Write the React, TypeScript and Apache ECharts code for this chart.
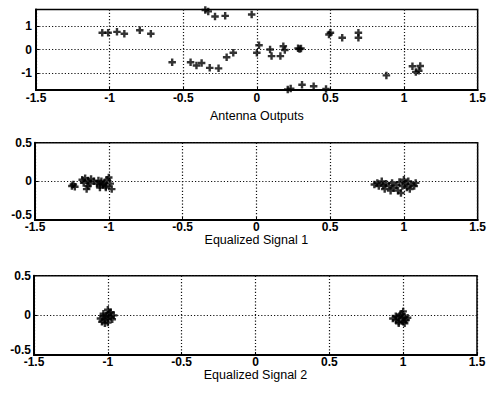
import React, { useEffect, useRef } from "react";
import * as echarts from "echarts";

const xTicks = [-1.5, -1, -0.5, 0, 0.5, 1, 1.5];
const topYTicks = [-1, 0, 1];
const lowYTicks = [-0.5, 0, 0.5];
const titles = ["Antenna Outputs", "Equalized Signal 1", "Equalized Signal 2"];

const antennaOutputs: number[][] = [
  [-1.05, 0.71], [-1.01, 0.71], [-0.95, 0.75], [-0.9, 0.67], [-0.795, 0.82], [-0.72, 0.67],
  [-0.575, -0.54], [-0.45, -0.54], [-0.41, -0.68], [-0.375, -0.57], [-0.32, -0.78], [-0.26, -0.8],
  [-0.205, -0.33], [-0.16, -0.14],
  [-0.35, 1.68], [-0.33, 1.62], [-0.284, 1.4], [-0.215, 1.43], [-0.035, 1.49],
  [0, -0.14], [0.015, 0.18], [0.09, 0.0], [0.1, -0.28], [0.16, -0.28], [0.18, 0.14], [0.19, -0.02],
  [0.28, 0.05], [0.29, 0.02], [0.3, 0.04],
  [0.49, 0.64], [0.5, 0.71], [0.58, 0.5], [0.69, 0.5], [0.69, 0.71],
  [0.21, -1.7], [0.23, -1.66], [0.307, -1.5], [0.386, -1.56], [0.47, -1.68],
  [0.88, -1.1], [1.057, -0.71], [1.11, -0.7], [1.08, -0.95], [1.1, -0.9],
];

const equalized1: number[][] = [
  [-1.25, -0.06], [-1.24, -0.04], [-1.23, -0.07],
  [-1.18, 0.02], [-1.16, 0.04], [-1.14, 0.01], [-1.12, 0.03], [-1.17, -0.02], [-1.13, -0.03],
  [-1.15, -0.1], [-1.14, -0.06],
  [-1.1, 0.0], [-1.08, -0.03], [-1.06, -0.05], [-1.05, 0.0], [-1.04, -0.04], [-1.03, -0.02],
  [-1.02, -0.06], [-1.01, 0.02], [-1.0, 0.05], [-0.99, -0.03], [-1.02, -0.08], [-0.98, -0.1],
  [-1.06, -0.08], [-1.07, 0.01],
  [0.8, -0.04], [0.82, -0.02], [0.83, -0.06], [0.85, 0.0], [0.86, -0.05], [0.88, -0.03],
  [0.87, -0.1], [0.9, -0.06], [0.92, -0.02], [0.93, -0.09], [0.95, -0.05], [0.96, -0.12],
  [0.97, -0.01], [0.99, -0.06], [1.0, 0.02], [1.01, -0.03], [1.02, -0.08], [1.03, 0.0],
  [1.05, -0.04], [1.07, -0.06], [1.08, -0.02], [0.98, -0.15], [1.04, -0.1], [0.91, -0.12],
];

const equalized2: number[][] = [
  [-1.05, -0.04], [-1.04, -0.08], [-1.03, -0.01], [-1.02, -0.06], [-1.01, 0.0], [-1.0, -0.04],
  [-0.99, 0.03], [-0.98, -0.02], [-0.97, -0.05], [-1.0, 0.07], [-1.02, -0.1], [-0.96, 0.0],
  [-1.0, -0.09], [-1.03, 0.02], [-0.98, 0.04],
  [0.93, -0.04], [0.95, -0.06], [0.96, -0.02], [0.97, -0.08], [0.98, 0.0], [0.99, -0.04],
  [1.0, 0.05], [1.01, -0.02], [1.02, -0.06], [1.03, -0.03], [0.97, -0.1], [1.0, -0.08],
  [0.99, 0.02], [1.01, -0.1], [0.95, -0.01],
];

const PLUS = "path://M3.4,0H6.6V3.4H10V6.6H6.6V10H3.4V6.6H0V3.4H3.4Z";
const FONT = "Liberation Sans";

export default function App() {
  const ref = useRef<HTMLDivElement>(null);
  useEffect(() => {
    if (!ref.current) return;
    const chart = echarts.init(ref.current, undefined, { renderer: "svg" });
    const dotted = { color: "#111", width: 1.2, type: [1.2, 2] as any };
    const grids = [
      { left: 36, right: 11, top: 9.5, height: 80.5 },
      { left: 35, right: 11, top: 142.7, height: 77.3 },
      { left: 34, right: 12, top: 275.7, height: 79.3 },
    ].map((g) => ({ ...g, show: true, borderColor: "#000", borderWidth: 1.5, containLabel: false }));
    const labelMargins = [3, 2, 2];
    const nameGaps = [19, 11, 10];
    const tickFont = { fontFamily: FONT, fontSize: 12, fontWeight: "bold", color: "#000", lineHeight: 10 };
    const xAxes = grids.map((_, i) => ({
      type: "value",
      gridIndex: i,
      min: xTicks[0],
      max: xTicks[xTicks.length - 1],
      interval: 0.5,
      name: titles[i],
      nameLocation: "middle",
      nameGap: nameGaps[i],
      nameTextStyle: { fontFamily: FONT, fontSize: 12.5, color: "#000" },
      axisLine: { show: true, onZero: false, lineStyle: { color: "#000", width: 2 } },
      axisTick: { show: true, inside: true, length: 3, lineStyle: { color: "#000" } },
      axisLabel: { margin: labelMargins[i], ...tickFont },
      splitLine: { show: true, lineStyle: dotted },
    }));
    const yAxes: any[] = [
      {
        type: "value",
        gridIndex: 0,
        min: -1.72,
        max: 1.7,
        axisLine: { show: true, onZero: false, lineStyle: { color: "#000", width: 2 } },
        axisTick: { show: true, inside: true, length: 3, customValues: topYTicks, lineStyle: { color: "#000" } },
        axisLabel: { margin: 4, customValues: topYTicks, ...tickFont },
        splitLine: { show: false },
      },
      ...[1, 2].map((i) => ({
        type: "value",
        gridIndex: i,
        min: lowYTicks[0],
        max: lowYTicks[lowYTicks.length - 1],
        interval: 0.5,
        axisLine: { show: true, onZero: false, lineStyle: { color: "#000", width: 2 } },
        axisTick: { show: true, inside: true, length: 3, lineStyle: { color: "#000" } },
        axisLabel: {
          margin: 3,
          ...tickFont,
          formatter: (v: number) => (v === lowYTicks[0] ? `{lo|${v}}` : `{n|${v}}`),
          rich: {
            lo: { ...tickFont, padding: [0, 0, 11, 0] },
            n: { ...tickFont },
          },
        },
        splitLine: { show: true, lineStyle: dotted },
      })),
    ];
    const datasets = [antennaOutputs, equalized1, equalized2];
    const series: any[] = datasets.map((d, i) => ({
      type: "scatter",
      xAxisIndex: i,
      yAxisIndex: i,
      data: d,
      symbol: PLUS,
      symbolSize: 7.5,
      itemStyle: { color: "#000" },
      silent: true,
      ...(i === 0
        ? {
            markLine: {
              silent: true,
              symbol: "none",
              label: { show: false },
              lineStyle: dotted,
              data: topYTicks.map((v) => ({ yAxis: v })),
              z: 1,
            },
          }
        : {}),
    }));
    chart.setOption({
      animation: false,
      backgroundColor: "#fff",
      grid: grids,
      xAxis: xAxes,
      yAxis: yAxes,
      series,
    });
    return () => chart.dispose();
  }, []);
  return (
    <div
      ref={ref}
      style={{ position: "absolute", left: 0, top: 0, width: 489, height: 396, background: "#fff" }}
    />
  );
}
